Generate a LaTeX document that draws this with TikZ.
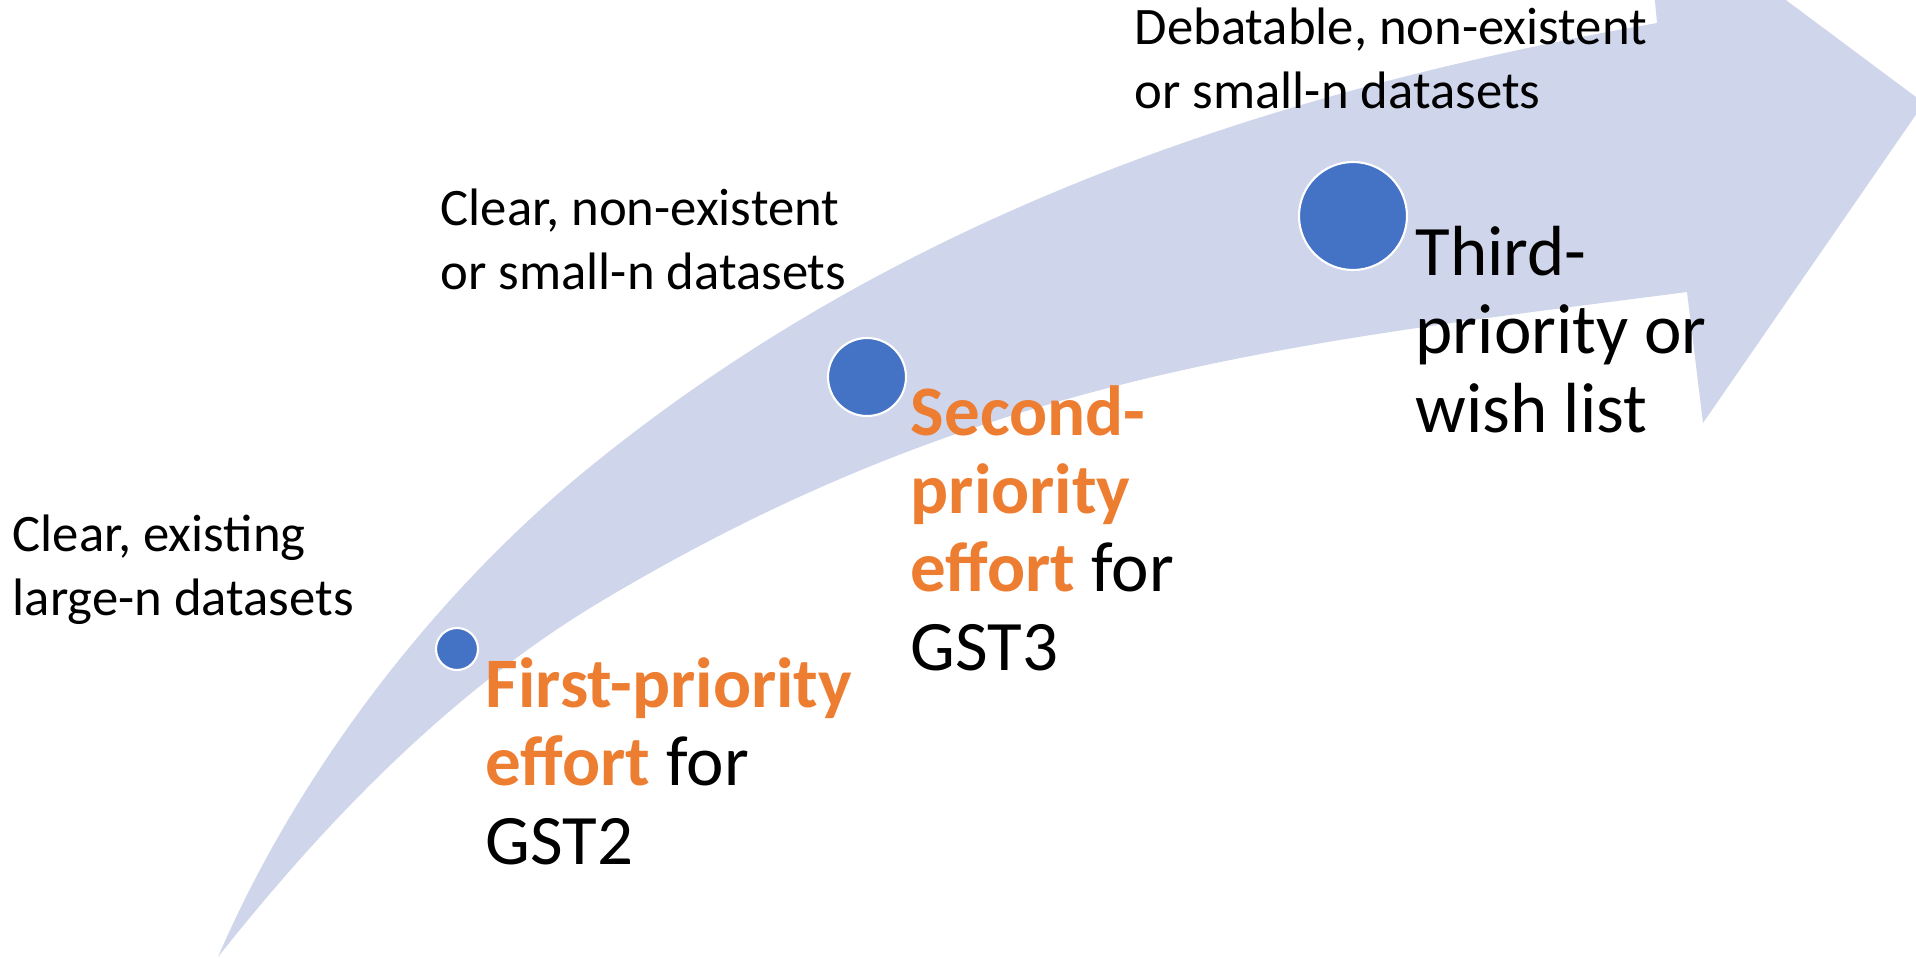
\documentclass[tikz,border=0pt]{standalone}
\usepackage{fontspec}
\setmainfont{Carlito}
\usepackage{xcolor}
\usetikzlibrary{positioning}

\definecolor{arrowfill}{HTML}{CFD5EA}
\definecolor{dotblue}{HTML}{4472C4}
\definecolor{prioorange}{HTML}{ED7D31}

\begin{document}
\begin{tikzpicture}[
    dot/.style={circle, fill=dotblue, draw=white, line width=0.6pt, inner sep=0pt},
    note/.style={align=left, inner sep=0pt, anchor=base west, font=\fontsize{15}{18.2}\selectfont},
    prio/.style={align=left, inner sep=0pt, anchor=base west, font=\fontsize{20.2}{22.2}\selectfont}]
        \useasboundingbox (0,0) rectangle (19.16,9.57);
        \clip (0,0) rectangle (19.16,9.57);

        % Corners of the curved arrow
        \coordinate (tail) at (2.18,0);
        \coordinate (outermid) at (5.96,4.95);
        \coordinate (outerend) at (16.57,9.34);
        \coordinate (barbtop) at (16.45,10.62);
        \coordinate (tip) at (19.24,8.54);
        \coordinate (barbbot) at (17.03,5.34);
        \coordinate (innerend) at (16.87,6.65);
        \coordinate (innermid) at (6.00,3.55);

        % Curved arrow
        \fill[arrowfill] (tail) .. controls (3.00,1.90) and (4.40,3.70) .. (outermid)
            .. controls (9.00,7.40) and (12.63,8.65) .. (outerend)
            -- (barbtop) -- (tip) -- (barbbot) -- (innerend)
            .. controls (12.90,6.134) and (9.825,5.84) .. (innermid)
            .. controls (4.50,2.65) and (3.25,1.35) .. (tail) -- cycle;

        % Milestones on the arrow
        \node[dot, minimum size=0.42cm] (first) at (4.57,3.08) {};
        \node[dot, minimum size=0.78cm] (second) at (8.67,5.80) {};
        \node[dot, minimum size=1.08cm] (third) at (13.53,7.41) {};

        % Dataset notes
        \node[note] (clear1) at (0.12,3.42) {Clear, existing\\large-n datasets};
        \node[note] (clear2) at (4.40,6.68) {Clear, non-existent\\or small-n datasets};
        \node[note] (debat) at (11.34,8.49) {Debatable, non-existent\\or small-n datasets};

        % Priority labels
        \node[prio] (gst2) at (4.85,0.93) {{\color{prioorange}\bfseries First-priority}\\{\color{prioorange}\bfseries effort} for\\GST2};
        \node[prio] (gst3) at (9.10,2.87) {{\color{prioorange}\bfseries Second-}\\{\color{prioorange}\bfseries priority}\\{\color{prioorange}\bfseries effort} for\\GST3};
        \node[prio] (wish) at (14.15,5.25) {Third-\\priority or\\wish list};
\end{tikzpicture}
\end{document}
